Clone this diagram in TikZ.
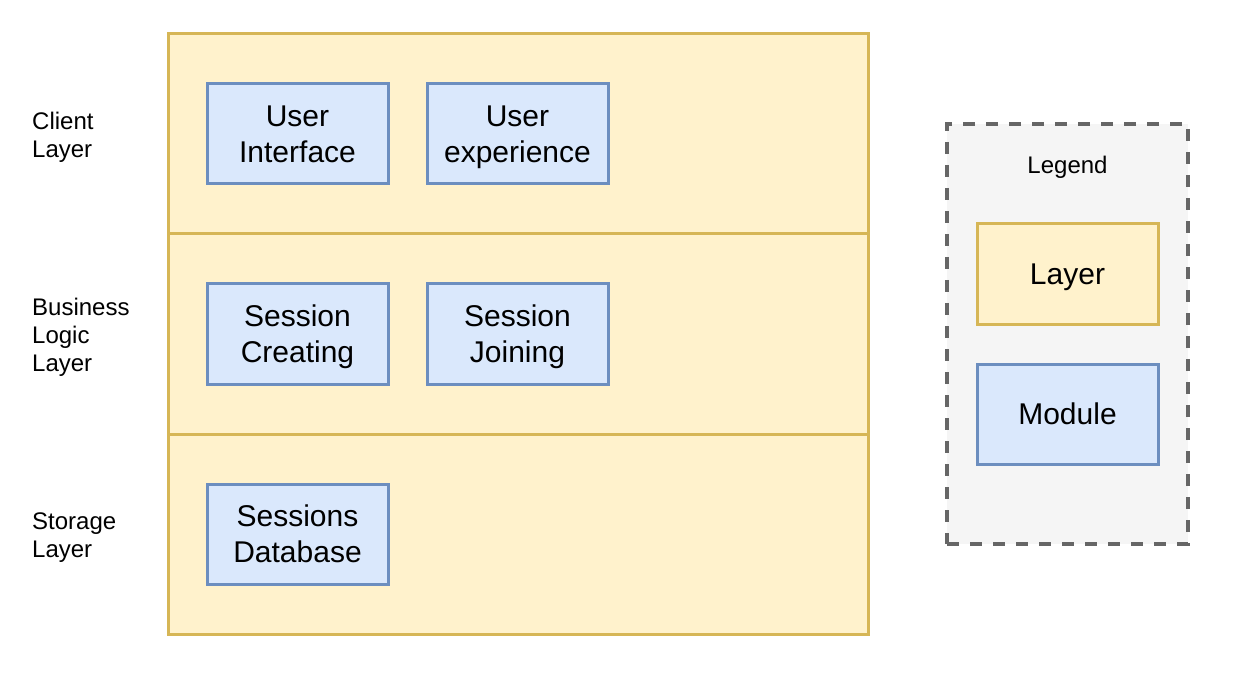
\documentclass[tikz,border=0pt]{standalone}
\usepackage{fontspec}
\setmainfont{Liberation Sans}
\definecolor{layerfill}{HTML}{FFF2CC}
\definecolor{layerline}{HTML}{D6B656}
\definecolor{modfill}{HTML}{DAE8FC}
\definecolor{modline}{HTML}{6C8EBF}
\definecolor{legfill}{HTML}{F5F5F5}
\definecolor{legline}{HTML}{666666}
\tikzset{
  layerbox/.style={draw=layerline, fill=layerfill, line width=3pt,
    minimum width=700pt, minimum height=200pt, inner sep=0pt},
  modulebox/.style={draw=modline, fill=modfill, line width=3pt,
    minimum width=181pt, minimum height=100pt, inner sep=0pt, align=center,
    text depth=0pt, font=\fontsize{30}{36}\selectfont},
  sidelabel/.style={anchor=west, align=left, inner sep=0pt, text depth=0pt,
    font=\fontsize{24}{28}\selectfont},
}
\begin{document}
\begin{tikzpicture}[x=1pt, y=-1pt]
  \useasboundingbox (0,0) rectangle (1234,676);
  % layers
  \node[layerbox] (client) at (518,134) {};
  \node[layerbox] (business) at (518,334) {};
  \node[layerbox] (storage) at (518,534) {};
  % layer names
  \node[sidelabel] (clientname) at (32,135) {Client\\Layer};
  \node[sidelabel] (businessname) at (32,335) {Business\\Logic\\Layer};
  \node[sidelabel] (storagename) at (32,535) {Storage\\Layer};
  % modules
  \node[modulebox] (ui) at (297.5,134) {User\\Interface};
  \node[modulebox] (ux) at (517.5,134) {User\\experience};
  \node[modulebox] (create) at (297.5,334) {Session\\Creating};
  \node[modulebox] (join) at (517.5,334) {Session\\Joining};
  \node[modulebox] (db) at (297.5,534) {Sessions\\Database};
  % legend
  \node[draw=legline, fill=legfill, line width=3.5pt, dash pattern=on 12pt off 11pt,
    minimum width=241pt, minimum height=420pt, inner sep=0pt] (legend) at (1067.5,334) {};
  \node[font=\fontsize{24}{28}\selectfont, inner sep=0pt, text depth=0pt] (legendtitle) at (1067.5,165) {Legend};
  \node[layerbox, minimum width=181pt, minimum height=100pt, text depth=0pt,
    font=\fontsize{30}{36}\selectfont] (leglayer) at (1067.5,274) {Layer};
  \node[modulebox] (legmodule) at (1067.5,414) {Module};
\end{tikzpicture}
\end{document}
